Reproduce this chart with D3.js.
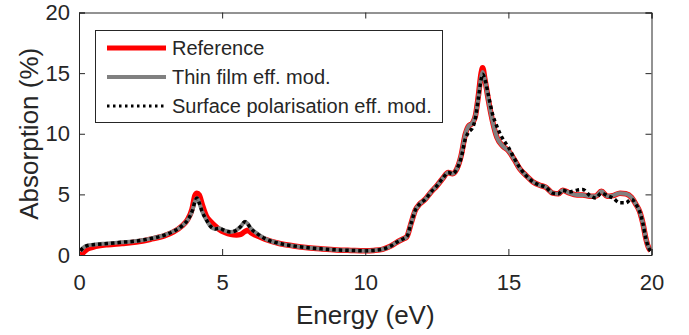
<!DOCTYPE html>
<html>
<head>
<meta charset="utf-8">
<script src="https://cdn.jsdelivr.net/npm/d3@7"></script>
<style>
  body { margin: 0; background: #fff; }
  svg { display: block; font-family: "Liberation Sans", Arial, Helvetica, sans-serif; }
</style>
</head>
<body>
<div id="chart"></div>
<script>
// energy grid (eV)
var energy = [0.05, 0.15, 0.3, 0.5, 1.0, 1.5, 2.0, 2.5, 3.0, 3.3, 3.6, 3.8, 3.95, 4.05, 4.12, 4.2, 4.3, 4.45, 4.6, 4.75,
  4.9, 5.1, 5.3, 5.5, 5.65, 5.8, 5.9, 6.0, 6.2, 6.5, 7.0, 7.5, 8.0, 8.5, 9.0, 9.5, 10.0, 10.3, 10.6, 10.9,
  11.1, 11.3, 11.45, 11.6, 11.75, 11.9, 12.1, 12.3, 12.5, 12.7, 12.9, 13.05, 13.2, 13.35, 13.5, 13.6, 13.75, 13.85, 13.95, 14.05,
  14.1, 14.18, 14.3, 14.45, 14.6, 14.8, 15.0, 15.2, 15.4, 15.6, 15.85, 16.1, 16.3, 16.55, 16.75, 16.9, 17.1, 17.4, 17.6, 17.85,
  18.05, 18.25, 18.45, 18.65, 18.9, 19.1, 19.3, 19.45, 19.6, 19.7, 19.8, 19.9, 19.97];

// Reference
var reference = [0.0, 0.2, 0.5, 0.65, 0.85, 0.95, 1.07, 1.3, 1.6, 1.9, 2.4, 2.95, 3.8, 4.9, 5.1, 4.95, 4.2, 3.2, 2.75, 2.4,
  2.1, 1.85, 1.7, 1.65, 1.7, 1.95, 2.05, 1.85, 1.6, 1.3, 0.95, 0.75, 0.6, 0.5, 0.42, 0.38, 0.35, 0.38, 0.47, 0.75,
  1.05, 1.3, 1.5, 2.6, 3.7, 4.2, 4.6, 5.2, 5.7, 6.3, 6.8, 6.7, 7.1, 8.2, 10.0, 10.6, 10.9, 11.5, 13.1, 15.0,
  15.45, 14.5, 12.8, 11.0, 9.7, 9.0, 8.6, 7.9, 7.1, 6.6, 6.05, 5.75, 5.6, 5.1, 5.05, 5.35, 5.15, 4.95, 4.95, 4.85,
  4.85, 5.25, 4.85, 4.9, 5.1, 5.05, 4.75, 4.2, 3.5, 2.6, 1.4, 0.6, 0.35];

// Thin film eff. mod.
var thinFilm = [0.3, 0.6, 0.78, 0.85, 0.95, 1.05, 1.15, 1.35, 1.65, 1.95, 2.4, 2.9, 3.6, 4.4, 4.7, 4.3, 3.6, 2.9, 2.35, 2.15,
  2.2, 2.0, 1.9, 2.05, 2.35, 2.75, 2.55, 2.2, 1.8, 1.35, 0.95, 0.75, 0.6, 0.5, 0.42, 0.38, 0.35, 0.38, 0.47, 0.75,
  1.05, 1.3, 1.5, 2.6, 3.7, 4.2, 4.6, 5.2, 5.7, 6.3, 6.8, 6.7, 7.1, 8.2, 10.0, 10.6, 10.9, 11.5, 13.0, 14.7,
  15.1, 14.4, 12.8, 11.0, 9.7, 9.0, 8.6, 7.9, 7.1, 6.6, 6.05, 5.75, 5.6, 5.1, 5.05, 5.35, 5.15, 4.95, 4.95, 4.85,
  4.85, 5.25, 4.85, 4.9, 5.1, 5.05, 4.75, 4.2, 3.5, 2.6, 1.4, 0.6, 0.35];

// Surface polarisation eff. mod.
var surfacePol = [0.35, 0.6, 0.78, 0.85, 0.95, 1.05, 1.15, 1.35, 1.65, 1.95, 2.4, 2.9, 3.6, 4.4, 4.7, 4.3, 3.6, 2.9, 2.35, 2.15,
  2.2, 2.0, 1.9, 2.05, 2.35, 2.75, 2.55, 2.2, 1.8, 1.35, 0.95, 0.75, 0.6, 0.5, 0.42, 0.38, 0.35, 0.38, 0.47, 0.75,
  1.05, 1.3, 1.5, 2.6, 3.7, 4.2, 4.6, 5.2, 5.7, 6.3, 6.8, 6.7, 7.1, 8.0, 9.6, 10.1, 10.5, 11.3, 12.9, 14.5,
  14.9, 14.5, 13.2, 11.6, 10.6, 9.6, 8.9, 8.0, 7.2, 6.6, 6.05, 5.75, 5.6, 5.1, 5.05, 5.35, 5.2, 5.35, 5.4, 4.9,
  4.7, 5.1, 4.9, 4.7, 4.3, 4.3, 4.6, 4.2, 3.5, 2.6, 1.4, 0.6, 0.35];

var xTicks = [0, 5, 10, 15, 20];
var yTicks = [0, 5, 10, 15, 20];
var seriesNames = ["Reference", "Thin film eff. mod.", "Surface polarisation eff. mod."];

var W = 689, H = 335;
var pLeft = 79, pRight = 651.5, pTop = 12.5, pBottom = 255;
var axisColor = "#262626";

var svg = d3.select("#chart").append("svg")
  .attr("width", W)
  .attr("height", H);

var x = d3.scaleLinear().domain([0, 20]).range([pLeft, pRight]);
var y = d3.scaleLinear().domain([0, 20]).range([pBottom, pTop]);

svg.append("clipPath").attr("id", "clip")
  .append("rect")
  .attr("x", pLeft).attr("y", pTop)
  .attr("width", pRight - pLeft).attr("height", pBottom - pTop);

var line = d3.line()
  .x(function(d){ return x(d[0]); })
  .y(function(d){ return y(d[1]); })
  .curve(d3.curveMonotoneX);

function pairs(vals){
  return energy.map(function(e, i){ return [e, vals[i]]; });
}

var styles = [
  {data: reference, stroke: "#ff0000", width: 5.5, dash: null},
  {data: thinFilm, stroke: "#808080", width: 4, dash: null},
  {data: surfacePol, stroke: "#000000", width: 3.5, dash: "3.5,3"}
];

var plot = svg.append("g").attr("clip-path", "url(#clip)");
styles.forEach(function(s){
  plot.append("path")
    .datum(pairs(s.data))
    .attr("fill", "none")
    .attr("stroke", s.stroke)
    .attr("stroke-width", s.width)
    .attr("stroke-linejoin", "round")
    .attr("stroke-dasharray", s.dash)
    .attr("d", line);
});

// axes, MATLAB style box with inward ticks
var xAxis = svg.append("g")
  .attr("transform", "translate(0," + pBottom + ")")
  .call(d3.axisBottom(x).tickValues(xTicks).tickSize(-6).tickPadding(19));
var xTop = svg.append("g")
  .attr("transform", "translate(0," + pTop + ")")
  .call(d3.axisTop(x).tickValues(xTicks).tickSize(-6).tickFormat(""));
var yAxis = svg.append("g")
  .attr("transform", "translate(" + pLeft + ",0)")
  .call(d3.axisLeft(y).tickValues(yTicks).tickSize(-6).tickPadding(9));
var yRight = svg.append("g")
  .attr("transform", "translate(" + pRight + ",0)")
  .call(d3.axisRight(y).tickValues(yTicks).tickSize(-6).tickFormat(""));

[xAxis, xTop, yAxis, yRight].forEach(function(g){
  g.select(".domain").attr("stroke", axisColor).attr("stroke-width", 1);
  g.selectAll(".tick line").attr("stroke", axisColor).attr("stroke-width", 1);
  g.selectAll(".tick text")
    .attr("fill", axisColor)
    .style("font-size", "22px")
    .style("font-family", "'Liberation Sans', Arial, sans-serif");
});
xAxis.selectAll(".tick text").attr("dy", "0.71em");

svg.append("text")
  .attr("x", (pLeft + pRight) / 2)
  .attr("y", 324)
  .attr("text-anchor", "middle")
  .attr("fill", axisColor)
  .style("font-size", "26px")
  .text("Energy (eV)");

svg.append("text")
  .attr("transform", "translate(38," + ((pTop + pBottom) / 2) + ") rotate(-90)")
  .attr("text-anchor", "middle")
  .attr("fill", axisColor)
  .style("font-size", "26px")
  .text("Absorption (%)");

// legend
var legend = svg.append("g");
legend.append("rect")
  .attr("x", 95.5).attr("y", 30.5)
  .attr("width", 347).attr("height", 92)
  .attr("fill", "#fff")
  .attr("stroke", axisColor)
  .attr("stroke-width", 1);

var legendWidths = [5, 4, 3];
seriesNames.forEach(function(name, i){
  var ly = 48 + i * 29;
  legend.append("line")
    .attr("x1", 107).attr("x2", 166)
    .attr("y1", ly).attr("y2", ly)
    .attr("stroke", styles[i].stroke)
    .attr("stroke-width", legendWidths[i])
    .attr("stroke-dasharray", styles[i].dash ? "2.5,3.5" : null);
  legend.append("text")
    .attr("x", 172).attr("y", ly)
    .attr("dy", "0.35em")
    .attr("fill", axisColor)
    .style("font-size", "20px")
    .text(name);
});
</script>
</body>
</html>
